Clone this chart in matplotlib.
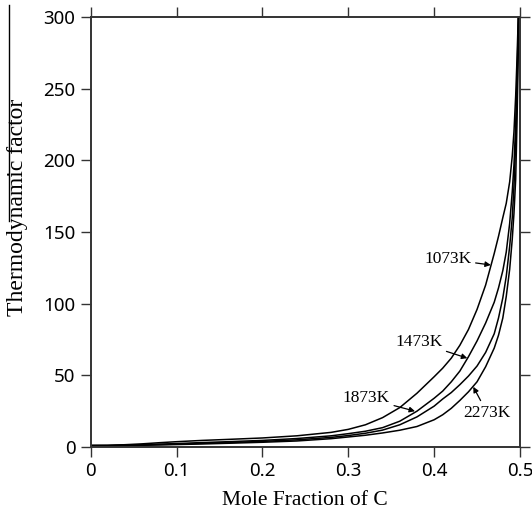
import matplotlib
matplotlib.use("Agg")
import matplotlib.pyplot as plt
from matplotlib.lines import Line2D

# ---------------------------------------------------------------------------
# Data (thermodynamic factor vs mole fraction)
# ---------------------------------------------------------------------------
x_frac = [0.0, 0.02, 0.04, 0.06, 0.08, 0.10, 0.13, 0.16, 0.20, 0.24, 0.28,
          0.30, 0.32, 0.34, 0.36, 0.38, 0.40, 0.41, 0.42, 0.43, 0.44, 0.45,
          0.46, 0.47, 0.475, 0.48, 0.484, 0.488, 0.491, 0.493, 0.495,
          0.4965, 0.498, 0.499]

tf_1073 = [1.0, 1.1, 1.6, 2.2, 3.0, 3.7, 4.6, 5.3, 6.3, 7.8, 10.2,
           12.3, 15.5, 20.5, 27.5, 37.5, 49.0, 55.0, 62.0, 71.0, 82.0, 96.0,
           113.0, 135.0, 147.0, 160.0, 170.0, 185.0, 203.0, 220.0, 245.0,
           270.0, 300.0, 325.0]
tf_1473 = [1.0, 1.0, 1.3, 1.6, 2.0, 2.4, 3.1, 3.7, 4.6, 5.9, 7.8,
           9.3, 11.0, 13.5, 18.0, 25.0, 34.0, 39.0, 45.5, 53.0, 63.0, 74.0,
           86.5, 101.0, 111.0, 123.0, 136.0, 156.0, 178.0, 197.0, 225.0,
           255.0, 295.0, 320.0]
tf_1873 = [1.0, 1.0, 1.15, 1.4, 1.7, 2.0, 2.6, 3.1, 3.9, 5.0, 6.7,
           8.0, 9.6, 11.8, 15.5, 21.0, 28.5, 33.5, 38.0, 43.5, 49.5, 56.5,
           66.0, 79.0, 90.0, 104.0, 119.0, 140.0, 160.0, 182.0, 212.0,
           245.0, 290.0, 318.0]
tf_2273 = [1.0, 1.0, 1.05, 1.2, 1.45, 1.7, 2.1, 2.6, 3.3, 4.2, 5.8,
           7.0, 8.2, 9.8, 11.7, 14.3, 19.0, 22.5, 27.0, 32.5, 38.5, 45.5,
           56.0, 69.0, 78.0, 90.0, 105.0, 124.0, 145.0, 163.0, 187.0,
           225.0, 275.0, 310.0]

curves = [tf_1073, tf_1473, tf_1873, tf_2273]

# label text, arrow tip (data), text centre (data)
labels = ["1073K", "1473K", "1873K", "2273K"]
tips = [(0.466, 127.0), (0.4386, 62.0), (0.3777, 25.0), (0.4456, 42.0)]
text_pos = [(0.416, 131.0), (0.382, 73.0), (0.321, 34.0), (0.4616, 24.0)]

x_ticks = [0, 0.1, 0.2, 0.3, 0.4, 0.5]
x_ticklabels = ["0", "0.1", "0.2", "0.3", "0.4", "0.5"]
y_ticks = [0, 50, 100, 150, 200, 250, 300]

# ---------------------------------------------------------------------------
# Figure
# ---------------------------------------------------------------------------
fig = plt.figure(figsize=(5.32, 5.17), dpi=100)
ax = fig.add_axes([0.1705, 0.1354, 0.8069, 0.8317])

for tf in curves:
    ax.plot(x_frac, tf, color="black", linewidth=1.1, clip_on=True)

for lab, tip, pos in zip(labels, tips, text_pos):
    ax.annotate(lab, xy=tip, xytext=pos, ha="center", va="center",
                fontsize=12.5, family="Liberation Serif",
                arrowprops=dict(arrowstyle="-|>", color="black", lw=0.9,
                                mutation_scale=8, shrinkA=1, shrinkB=0))

ax.set_xlim(0, 0.5)
ax.set_ylim(0, 300)
ax.set_xticks(x_ticks)
ax.set_xticklabels(x_ticklabels)
ax.set_yticks(y_ticks)

ax.tick_params(direction="out", length=7, width=1.0, color="#333333",
               top=True, right=True, labeltop=False, labelright=False,
               labelsize=13.5, pad=4)
for lbl in ax.get_xticklabels() + ax.get_yticklabels():
    lbl.set_family("Noto Sans")

for sp in ax.spines.values():
    sp.set_linewidth(1.4)
    sp.set_color("#333333")

ax.set_xlabel("Mole Fraction of C", family="Liberation Serif", fontsize=15.5,
              labelpad=8)
ax.set_ylabel("Thermodynamic factor", family="Liberation Serif", fontsize=17)
ax.yaxis.set_label_coords(-0.145, 0.557)

# stray vertical rule at the far left of the scanned figure
fig.add_artist(Line2D([9.3 / 532, 9.3 / 532], [1 - 5 / 517, 1 - 221 / 517],
                      transform=fig.transFigure, color="black", lw=1.0))

fig.savefig("out.png", dpi=100)
plt.close(fig)
